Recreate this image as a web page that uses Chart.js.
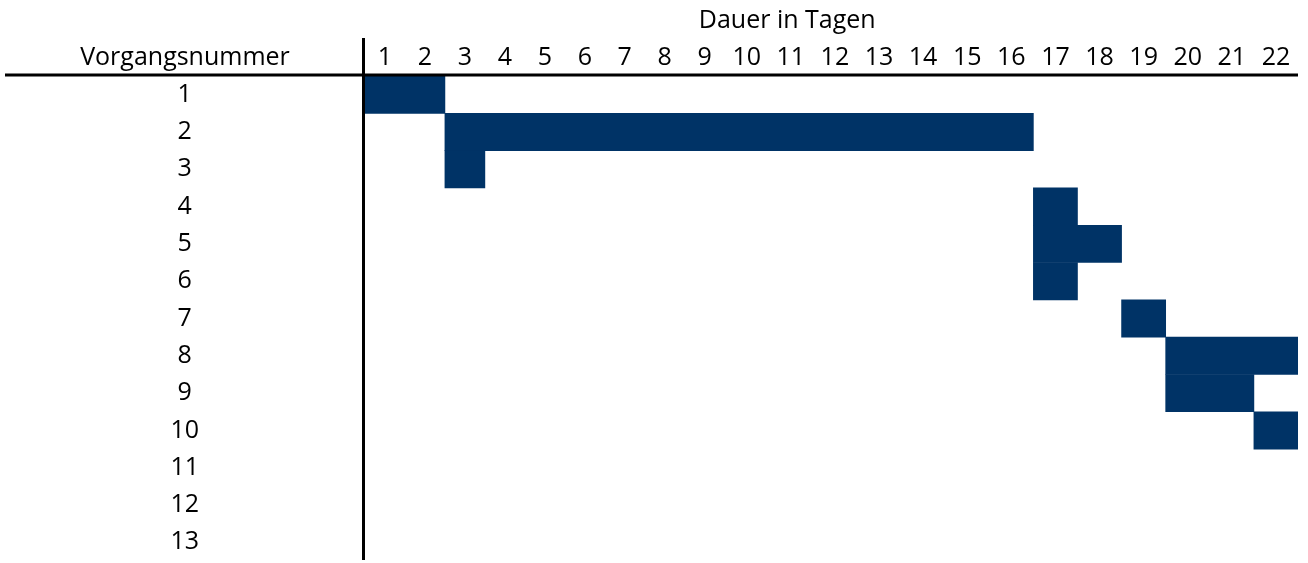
<!DOCTYPE html>
<html>
<head>
<meta charset="utf-8">
<script src="https://cdn.jsdelivr.net/npm/chart.js@4/dist/chart.umd.min.js"></script>
<style>
  html, body { margin: 0; padding: 0; background: #fff; }
  #wrap { width: 1308px; height: 563px; }
</style>
</head>
<body>
<div id="wrap"><canvas id="gantt"></canvas></div>
<script>
// Vorgänge und Dauer (Tag an dem der Vorgang beginnt, Anzahl Tage)
const tasks = ['1', '2', '3', '4', '5', '6', '7', '8', '9', '10', '11', '12', '13'];
const startDay = [1, 3, 3, 17, 17, 17, 19, 20, 20, 22, null, null, null];
const durationDays = [2, 14, 1, 1, 2, 1, 1, 3, 2, 1, null, null, null];
const dayLabels = ['1', '2', '3', '4', '5', '6', '7', '8', '9', '10', '11',
                   '12', '13', '14', '15', '16', '17', '18', '19', '20', '21', '22'];

const barColor = '#003366';
const fontFamily = '"Open Sans", Lato, sans-serif';
const fontSize = 25;

// Spalten wie in Excel: einstellige Tage schmaler als zweistellige
const colWidths = dayLabels.map(d => d.length > 1 ? 44.15 : 40);
const colTotal = colWidths.reduce((a, b) => a + b, 0);

// Skala, die jeden Tag auf seine eigene Spaltenbreite abbildet
class DayScale extends Chart.LinearScale {
    static id = 'dayscale';
    getPixelForValue(value) {
        const k = (this.right - this.left) / colTotal;
        const v = Math.max(0, Math.min(colWidths.length, value));
        const i = Math.floor(v);
        let acc = 0;
        for (let j = 0; j < i && j < colWidths.length; j++) acc += colWidths[j];
        if (i < colWidths.length) acc += (v - i) * colWidths[i];
        return this.left + acc * k;
    }
    getValueForPixel(pixel) {
        const k = (this.right - this.left) / colTotal;
        let rest = (pixel - this.left) / k;
        for (let j = 0; j < colWidths.length; j++) {
            if (rest <= colWidths[j]) return j + rest / colWidths[j];
            rest -= colWidths[j];
        }
        return colWidths.length;
    }
}
Chart.register(DayScale);

const barData = startDay.map((s, i) => s == null ? null : [s - 1, s - 1 + durationDays[i]]);

// Rahmenlinien und Überschriften wie in der Tabelle
const tablePlugin = {
    id: 'tableLines',
    afterDraw(chart) {
        const ctx = chart.ctx;
        const area = chart.chartArea;
        const x = chart.scales.x;
        ctx.save();
        ctx.strokeStyle = '#000';
        ctx.lineWidth = 3;
        ctx.beginPath();
        ctx.moveTo(5, 75);
        ctx.lineTo(area.right, 75);
        ctx.moveTo(363.5, 38);
        ctx.lineTo(363.5, 560);
        ctx.stroke();

        ctx.fillStyle = '#000';
        ctx.font = fontSize + 'px ' + fontFamily;
        ctx.textAlign = 'center';
        ctx.textBaseline = 'alphabetic';
        ctx.fillText('Vorgangsnummer', 185, 65);
        ctx.fillText('Dauer in Tagen', x.getPixelForValue(10.42), 28);
        ctx.restore();
    }
};

new Chart(document.getElementById('gantt'), {
    type: 'bar',
    data: {
        labels: tasks,
        datasets: [{
            data: barData,
            backgroundColor: barColor,
            borderWidth: 0,
            barPercentage: 1,
            categoryPercentage: 1
        }]
    },
    options: {
        indexAxis: 'y',
        responsive: true,
        maintainAspectRatio: false,
        animation: false,
        layout: { padding: { left: 0, top: 0, right: 10, bottom: 2 } },
        plugins: {
            legend: { display: false },
            tooltip: { enabled: false }
        },
        scales: {
            x: {
                type: 'dayscale',
                position: 'top',
                min: 0,
                max: dayLabels.length,
                grid: { display: false, drawTicks: false },
                border: { display: false },
                afterBuildTicks: axis => {
                    axis.ticks = dayLabels.map((d, i) => ({ value: i + 0.5 }));
                },
                afterFit: axis => {
                    axis.height = 76;
                    axis.paddingLeft = 0;
                    axis.paddingRight = 0;
                },
                ticks: {
                    autoSkip: false,
                    maxRotation: 0,
                    padding: 3,
                    color: '#000',
                    font: { family: fontFamily, size: fontSize },
                    callback: (v, i) => dayLabels[i]
                }
            },
            y: {
                type: 'category',
                grid: { display: false, drawTicks: false },
                border: { display: false },
                afterFit: axis => {
                    axis.width = 365;
                    axis.paddingTop = 0;
                    axis.paddingBottom = 0;
                },
                ticks: {
                    crossAlign: 'center',
                    padding: 166,
                    color: '#000',
                    font: { family: fontFamily, size: fontSize }
                }
            }
        }
    },
    plugins: [tablePlugin]
});
</script>
</body>
</html>
